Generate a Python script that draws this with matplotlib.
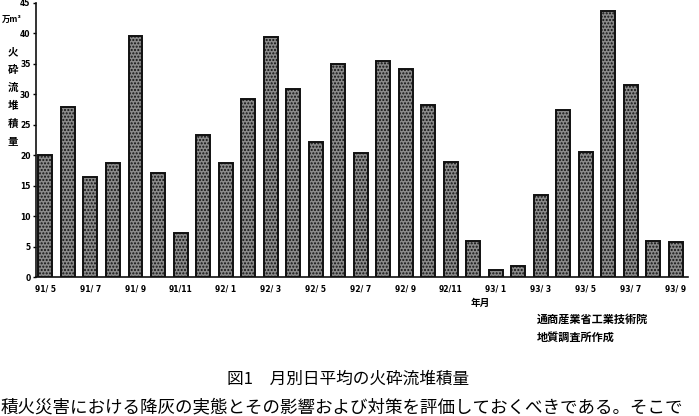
import matplotlib.pyplot as plt
import numpy as np

plt.rcParams['font.family'] = ['Noto Sans CJK JP', 'DejaVu Sans']

# monthly daily-average pyroclastic flow deposit volume (万m3), 91/5 .. 93/9
months = ['91/ 5', '91/ 6', '91/ 7', '91/ 8', '91/ 9', '91/10', '91/11', '91/12',
          '92/ 1', '92/ 2', '92/ 3', '92/ 4', '92/ 5', '92/ 6', '92/ 7', '92/ 8',
          '92/ 9', '92/10', '92/11', '92/12', '93/ 1', '93/ 2', '93/ 3', '93/ 4',
          '93/ 5', '93/ 6', '93/ 7', '93/ 8', '93/ 9']
volume = [20.0, 27.9, 16.5, 18.8, 39.6, 17.0, 7.2, 23.4,
          18.8, 29.3, 39.4, 30.8, 22.2, 35.0, 20.4, 35.4,
          34.2, 28.2, 18.9, 5.9, 1.2, 1.8, 13.4, 27.4,
          20.5, 43.7, 31.6, 6.0, 5.8]
yticks = list(range(0, 46, 5))

x = np.arange(len(months))

fig = plt.figure(figsize=(6.99, 4.16), dpi=100)
ax = fig.add_axes([0.0515, 0.334, 0.933, 0.659])

ax.bar(x, volume, width=0.62, color='#8a8a8a', edgecolor='#111111',
       linewidth=1.4, hatch='.....', zorder=2)

ax.set_xlim(-0.42, 28.55)
ax.set_ylim(0, 45)
ax.set_yticks(yticks)
ax.set_yticklabels([str(v) for v in yticks], fontsize=5.5, fontweight='bold',
                   family='Liberation Sans Narrow')
ax.set_xticks(x[::2])
ax.set_xticklabels(months[::2], fontsize=5.5, fontweight='bold',
                   family='Liberation Sans Narrow')
ax.tick_params(axis='y', length=2, width=1, pad=2)
ax.tick_params(axis='x', length=0, pad=5)

for s in ['top', 'right']:
    ax.spines[s].set_visible(False)
for s in ['left', 'bottom']:
    ax.spines[s].set_linewidth(1.2)
    ax.spines[s].set_color('#111111')

# vertical y label
fig.text(12 / 699, 1 - 19 / 416, '万m³', fontsize=6, fontweight='bold',
         style='italic', ha='center', va='center')
for i, ch in enumerate('火砕流堆積量'):
    fig.text(13 / 699, 1 - (52 + i * 18) / 416, ch, fontsize=7.5,
             fontweight='bold', ha='center', va='center')

fig.text(480 / 699, 1 - 303 / 416, '年月', fontsize=7, fontweight='bold',
         ha='center', va='center')
fig.text(537 / 699, 1 - 319 / 416, '通商産業省工業技術院', fontsize=8,
         fontweight='bold', ha='left', va='center')
fig.text(537 / 699, 1 - 337 / 416, '地質調査所作成', fontsize=8,
         fontweight='bold', ha='left', va='center')

fig.text(348 / 699, 1 - 379 / 416, '図1　月別日平均の火砕流堆積量',
         fontsize=12, ha='center', va='center')
fig.text(1 / 699, 1 - 407 / 416,
         '積火災害における降灰の実態とその影響および対策を評価しておくべきである。そこで',
         fontsize=12.6, ha='left', va='center')

fig.savefig('out.png', dpi=100)
